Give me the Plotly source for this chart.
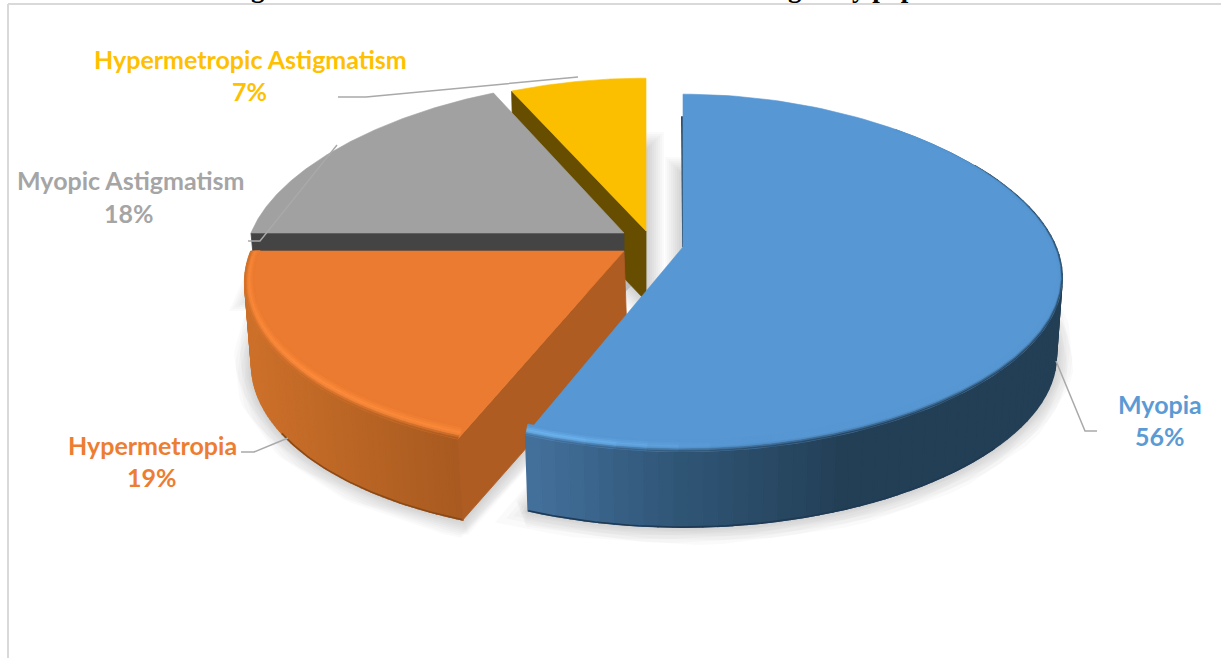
import math
import plotly.graph_objects as go

# Refractive error shares, clockwise from twelve o'clock
categories = ["Myopia", "Hypermetropia", "Myopic Astigmatism", "Hypermetropic Astigmatism"]
shares = [56, 19, 18, 7]
top_colors = ["#5797d3", "#eb7b30", "#a1a1a1", "#fbbf00"]
label_colors = ["#5b9bd5", "#ed7d31", "#a5a5a5", "#ffc000"]

W, H = 1221, 658
RX, RY = 373, 175
KY = 0.145
KX1, KX2 = 0.189, 0.056

# Exploded apex of each wedge, extruded depth and the base's convergence
apexes = {0: (683, 247), 1: (624, 251), 2: (624, 233), 3: (646, 231)}
depths = {0: 79, 1: 83, 2: 60, 3: 70}
base_scale = {0: 0.985, 1: 0.99, 2: 0.985, 3: 0.985}
base_shift = {0: 0, 1: 3, 2: 0, 3: 0}
front_flare = {0: 0.0, 1: 0.07, 2: 0.0, 3: 0.04}
cut_colors = {0: "#2a4a66", 1: "#ae5c22", 2: "#444444", 3: "#664d00"}


def hex_rgb(c):
    return tuple(int(c[i:i + 2], 16) for i in (1, 3, 5))


def mix(a, b, t):
    t = max(0.0, min(1.0, t))
    ra, rb = hex_rgb(a), hex_rgb(b)
    return "#%02x%02x%02x" % tuple(round(ra[i] + (rb[i] - ra[i]) * t) for i in range(3))


def smooth(lo, hi, v):
    t = max(0.0, min(1.0, (v - lo) / (hi - lo)))
    return t * t * (3 - 2 * t)


def project(i, deg, r=1.0, lift=0.0):
    """Oblique perspective view of a point on a wedge of the tilted disc."""
    cx, cy = apexes[i]
    th = math.radians(deg)
    X, Y = r * math.sin(th), r * math.cos(th)
    wx = 1 + KX1 * Y + KX2 * Y * Y
    wy = 1 + KY * Y
    flare = 1 + front_flare[i] * abs(Y) ** 3
    return cx + RX * flare * X / wx, cy - RY * Y / wy + lift


def base_point(i, deg, r=1.0):
    x, y = project(i, deg, r * base_scale[i], depths[i])
    return x + base_shift[i], y


def arc(i, a0, a1, r=1.0, lift=0.0, n=60):
    return [project(i, a0 + (a1 - a0) * k / n, r, lift) for k in range(n + 1)]


def base_arc(i, a0, a1, n=60):
    return [base_point(i, a0 + (a1 - a0) * k / n) for k in range(n + 1)]


def poly(fig, pts, color, seam=0.8):
    xs = [p[0] for p in pts] + [pts[0][0]]
    ys = [p[1] for p in pts] + [pts[0][1]]
    fig.add_trace(go.Scatter(x=xs, y=ys, mode="lines", fill="toself", fillcolor=color,
                             line=dict(color=color, width=seam), hoverinfo="skip",
                             showlegend=False))


def path(fig, pts, color, width):
    fig.add_trace(go.Scatter(x=[p[0] for p in pts], y=[p[1] for p in pts], mode="lines",
                             line=dict(color=color, width=width), hoverinfo="skip",
                             showlegend=False))


def blue_side(x):
    if x < 680:
        return mix("#44719d", "#305677", (x - 530) / 150)
    return mix("#305677", "#233f56", (x - 680) / 170)


def orange_side(x):
    return mix("#cc702a", "#a85a20", (x - 250) / 210)


side_shades = {0: blue_side, 1: orange_side}
edge_lines = {0: "#1f3a55", 1: "#8a4a18"}
edge_spans = {0: (130, 201.6), 1: (201.6, 238)}
highlights = {0: "#6db5f0", 1: "#ff8d3d"}
bevel_slope = {0: 0.0018, 1: 0.0035}


def dark_weight(i, deg):
    if i == 0:
        return smooth(35, 100, deg)
    return 1.0


def glow_weight(i, deg):
    if i == 0:
        return smooth(172, 198, deg)
    return 0.65 + 0.35 * max(0.0, 1 - abs(deg - 225) / 45)


fig = go.Figure()

# Wedge spans from the cumulative shares
spans = []
start = 0.0
for s in shares:
    spans.append((start, start + s * 3.6))
    start += s * 3.6

# Soft ground shadow: stacked translucent strokes round each wedge's base
for i, (a0, a1) in enumerate(spans):
    outline = [base_point(i, 0, 0)] + base_arc(i, a0, a1) + [base_point(i, 0, 0)]
    for w in range(4, 40, 4):
        path(fig, outline, "rgba(0,0,0,0.02)", w)

# Wedges are painted from the farthest to the nearest
for i in (3, 2, 1, 0):
    a0, a1 = spans[i]
    base_col = top_colors[i]

    # Outer wall
    if i in side_shades:
        n = 70
        wall_from = max(a0, 60)
        for k in range(n):
            t0 = wall_from + (a1 - wall_from) * k / n
            t1 = wall_from + (a1 - wall_from) * (k + 1) / n
            p = [project(i, t0), project(i, t1), base_point(i, t1), base_point(i, t0)]
            poly(fig, p, side_shades[i](p[0][0]), 1.6)
        path(fig, base_arc(i, *edge_spans[i]), edge_lines[i], 1.6)

    # Visible cut face
    if i == 0:
        cx, cy = apexes[i]
        tx, ty = project(i, a0)
        path(fig, [(cx - 1, ty + 22), (cx + 0.2, cy)], cut_colors[i], 2)
    else:
        face = [project(i, 0, 0), project(i, a0), base_point(i, a0), base_point(i, 0, 0)]
        poly(fig, face, cut_colors[i])

    # Flat top
    top = [project(i, 0, 0)] + arc(i, a0, a1, 1.0, 0, 120)
    poly(fig, top, base_col, 0.6)

    # Rounded bevel just inside the rim
    if i in side_shades:
        steps = 7
        n = 48
        for k in range(n):
            t0 = a0 + (a1 - a0) * k / n
            t1 = a0 + (a1 - a0) * (k + 1) / n
            mid = (t0 + t1) / 2
            dw = dark_weight(i, mid)
            gw = glow_weight(i, mid)
            if dw < 0.02 and gw < 0.02:
                continue
            side_c = side_shades[i](project(i, mid)[0])
            rise = max(0.0, -math.cos(math.radians(mid))) ** 0.7
            for b in range(steps):
                u = (b + 0.5) / steps
                col = base_col
                if gw > 0:
                    col = mix(col, highlights[i], gw * max(0.0, 1 - abs(u - 0.45) / 0.45))
                if dw > 0:
                    col = mix(col, side_c, dw * (1 - smooth(0.0, 0.45, u)))
                r_a = 1 - bevel_slope[i] * b
                r_b = 1 - bevel_slope[i] * (b + 1)
                l_a = -1.25 * b * rise
                l_b = -1.25 * (b + 1) * rise
                p = [project(i, t0, r_a, l_a), project(i, t1, r_a, l_a),
                     project(i, t1, r_b, l_b), project(i, t0, r_b, l_b)]
                poly(fig, p, col, 0.5)

# Leader lines from the labels to their wedges
leaders = [
    [(1097, 431), (1085, 431), (1056, 361)],
    [(241, 452), (254, 452), (288, 438)],
    [(248, 241), (260, 241), (337, 145)],
    [(338, 97), (366, 97), (578, 77)],
]
for ln in leaders:
    path(fig, ln, "#a9a9a9", 1.5)

# Data labels: category name above its share
name_pos = [(1160, 404), (152, 445), (130, 180), (250, 59)]
value_pos = [(1160, 436), (152, 477), (129, 213), (249, 91)]
annotations = []
for i, cat in enumerate(categories):
    for (x, y), txt in ((name_pos[i], cat), (value_pos[i], f"{shares[i]}%")):
        annotations.append(dict(x=x, y=y, xref="x", yref="y", text=txt, showarrow=False,
                                xanchor="center", yanchor="middle",
                                font=dict(family="Lato", size=25, color=label_colors[i],
                                          weight="bold")))

# Bottom of the caption line above the frame
caption_bits = [("g", 258), ("g", 795), ("y pop", 884)]
for txt, x in caption_bits:
    annotations.append(dict(x=x, y=5, xref="x", yref="y", text=txt, showarrow=False,
                            xanchor="center", yanchor="bottom",
                            font=dict(family="Liberation Serif", size=27, color="#000000",
                                      weight="bold")))

fig.update_layout(
    width=W, height=H, margin=dict(l=0, r=0, t=0, b=0),
    paper_bgcolor="white", plot_bgcolor="white", showlegend=False,
    xaxis=dict(range=[0, W], visible=False, fixedrange=True),
    yaxis=dict(range=[H, 0], visible=False, fixedrange=True),
    annotations=annotations,
    shapes=[
        dict(type="line", x0=8, x1=W, y0=4, y1=4, xref="x", yref="y",
             line=dict(color="#d9d9d9", width=2), layer="above"),
        dict(type="line", x0=8, x1=8, y0=4, y1=H, xref="x", yref="y",
             line=dict(color="#d9d9d9", width=2), layer="above"),
    ],
)

fig.write_html("out.html")
